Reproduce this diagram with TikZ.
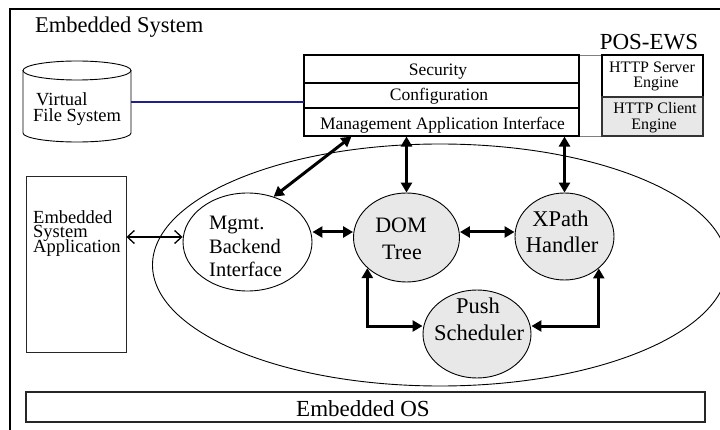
\documentclass[tikz,border=0pt]{standalone}
\usepackage{fontspec}
\setmainfont{Liberation Serif}
\usetikzlibrary{shapes.geometric,arrows.meta,calc}
\definecolor{lgray}{HTML}{E8E8E8}
\definecolor{vfsblue}{HTML}{20208C}
\newcommand{\fs}[1]{\fontsize{#1}{#1}\selectfont}
\tikzset{
  frame/.style={draw=black, line width=1.1pt},
  rowbox/.style={draw=black, line width=1.1pt, inner sep=0pt, minimum width=275pt},
  lbl/.style={inner sep=0pt, anchor=base},
  lblw/.style={inner sep=0pt, anchor=base west},
  plainell/.style={ellipse, draw=black, line width=0.9pt, inner sep=0pt},
  grayell/.style={ellipse, draw=black, line width=0.9pt, fill=lgray, inner sep=0pt},
  thickarrow/.style={line width=3pt, {Triangle[length=10pt,width=11pt]}-{Triangle[length=10pt,width=11pt]}},
  openarrow/.style={line width=1.3pt, {Straight Barb[length=7pt,width=13pt]}-{Straight Barb[length=7pt,width=13pt]}}
}
\begin{document}
\begin{tikzpicture}[x=1pt,y=-1pt]
\useasboundingbox (0,0) rectangle (720,430);
\clip (0,0) rectangle (720,430);
% outer frame
\draw[frame] (10,9) rectangle (740,450);
\node[lblw, font=\fs{22.5}] (title) at (35,33) {Embedded System};

% big ellipse
\node[plainell, minimum width=575pt, minimum height=242pt] (big) at (440,265) {};

% virtual file system cylinder
\draw[line width=0.9pt] (23,70.5) -- (23,133)
  arc[start angle=180, end angle=360, x radius=54pt, y radius=9pt] -- (131,70.5);
\draw[line width=0.9pt] (77,70.5) ellipse [x radius=54pt, y radius=9.5pt];
\coordinate (vfsR) at (131,102);
\node[lblw, font=\fs{18.5}] (vfs1) at (36,106) {Virtual};
\node[lblw, font=\fs{18.5}] (vfs2) at (33,122) {File System};

% POS-EWS block
\node[draw=gray, line width=0.8pt, inner sep=0pt, minimum width=399pt, minimum height=81pt] (pos) at (503.5,95.5) {};
\node[rowbox, minimum height=28pt] (sec) at (441.5,69) {};
\node[rowbox, minimum height=25pt] (conf) at (441.5,95.5) {};
\node[rowbox, minimum height=28pt] (mai) at (441.5,122) {};
\node[lbl, font=\fs{17.5}] (secT) at (438,76) {Security};
\node[lbl, font=\fs{17.5}] (confT) at (439,101) {Configuration};
\node[lbl, font=\fs{17.5}] (maiT) at (442.5,130) {Management Application Interface};
\node[draw=black, line width=1.1pt, inner sep=0pt, minimum width=101pt, minimum height=42pt] (srv) at (652.5,76) {};
\node[draw=black!80, line width=1.1pt, fill=lgray, inner sep=0pt, minimum width=101pt, minimum height=39pt] (cli) at (652.5,116.5) {};
\node[lbl, font=\fs{16}] (srvT1) at (652,72.5) {HTTP Server};
\node[lbl, font=\fs{16}] (srvT2) at (656,87.5) {Engine};
\node[lbl, font=\fs{16}] (cliT1) at (655,114) {HTTP Client};
\node[lbl, font=\fs{16}] (cliT2) at (654,129.5) {Engine};
\node[lbl, font=\fs{23}] (posT) at (649,49.5) {POS-EWS};

\draw[vfsblue, line width=1.3pt] (vfsR) -- (pos.west |- vfsR);

% embedded system application
\node[draw=black!85, line width=0.9pt, inner sep=0pt, minimum width=100pt, minimum height=176pt] (esa) at (76,264) {};
\node[lblw, font=\fs{18.5}] (esa1) at (33,223.3) {Embedded};
\node[lblw, font=\fs{18.5}] (esa2) at (33,237.8) {System};
\node[lblw, font=\fs{18.5}] (esa3) at (33,252.7) {Application};

% inner components
\node[plainell, minimum width=129pt, minimum height=98pt] (mbi) at (247.5,242) {};
\node[lblw, font=\fs{20.5}] (mbi1) at (209,230) {Mgmt.};
\node[lblw, font=\fs{20.5}] (mbi2) at (209,253.5) {Backend};
\node[lblw, font=\fs{20.5}] (mbi3) at (209,277) {Interface};

\node[grayell, minimum width=106pt, minimum height=89pt] (dom) at (406.5,237.5) {};
\node[lbl, font=\fs{22}] (dom1) at (401,233) {DOM};
\node[lbl, font=\fs{22}] (dom2) at (402,260) {Tree};

\node[grayell, minimum width=99pt, minimum height=87pt] (xp) at (564.5,236.5) {};
\node[lbl, font=\fs{22.5}] (xp1) at (560.5,227) {XPath};
\node[lbl, font=\fs{22.5}] (xp2) at (562,252.5) {Handler};

\node[grayell, minimum width=108pt, minimum height=88pt] (push) at (477,334) {};
\node[lbl, font=\fs{22.5}] (push1) at (478,313) {Push};
\node[lbl, font=\fs{22.5}] (push2) at (479,340) {Scheduler};

% embedded OS
\node[draw=black!85, line width=1.1pt, inner sep=0pt, minimum width=679pt, minimum height=30pt] (os) at (365.5,407) {};
\node[lbl, font=\fs{23}] (osT) at (363,416.5) {Embedded OS};

% connectors
\coordinate (hy) at (0,232);
\draw[openarrow] (esa.east |- 0,237) -- (mbi.west |- 0,237);
\draw[thickarrow] (mbi.60) -- ($(mai.south west)+(48,0)$);
\draw[thickarrow] (dom.north |- mai.south) -- (dom.north);
\draw[thickarrow] (xp.north |- mai.south) -- (xp.north);
\draw[thickarrow] (mbi.east |- hy) -- (dom.west |- hy);
\draw[thickarrow] (dom.east |- hy) -- (xp.west |- hy);
\draw[thickarrow] (dom.218) |- ($(push.west)+(0,-8)$);
\draw[thickarrow] (xp.-43.5) |- ($(push.east)+(0,-8)$);
\end{tikzpicture}
\end{document}
